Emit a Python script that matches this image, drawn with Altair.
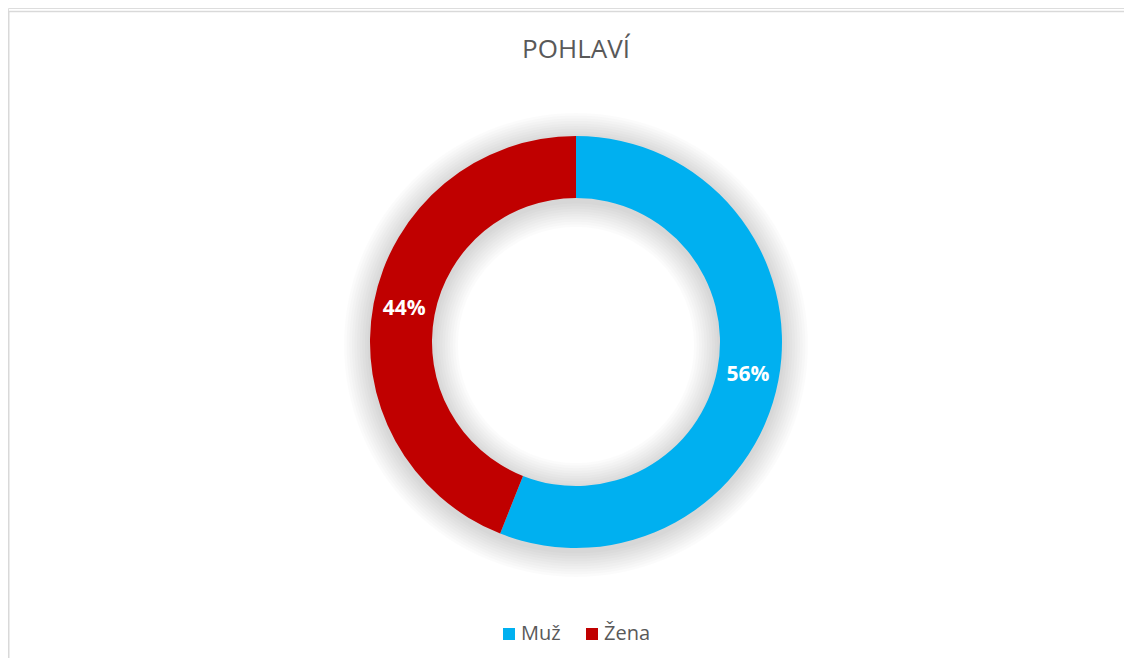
import altair as alt
import pandas as pd

categories = ["Muž", "Žena"]
values = [56, 44]
labels = ["56%", "44%"]
colors = ["#00B0F0", "#C00000"]
title_text = ["POHLAVÍ"]

df = pd.DataFrame({"cat": categories, "value": values, "label": labels, "order": [0, 1]})
one = pd.DataFrame({"a": [0]})
tdf = pd.DataFrame({"t": title_text})

CX, CY = 568, 334
R_OUT, R_IN = 206, 144

base = alt.Chart(df)

border = alt.Chart(one).mark_rect(
    fill=None, stroke="#d9d9d9", strokeWidth=1.5
).encode(
    x=alt.value(0.75), y=alt.value(3.5), x2=alt.value(3000), y2=alt.value(3000)
)

title = alt.Chart(tdf).mark_text(
    font="Open Sans", fontSize=26, color="#595959", baseline="alphabetic", align="center"
).encode(text="t:N", x=alt.value(CX), y=alt.value(50))

shadows = []
for k in range(1, 11):
    shadows.append(
        alt.Chart(one).mark_arc(
            theta=0, theta2=6.2832, radius=R_OUT + 2.6 * k, radius2=R_IN - 2.6 * k,
            color="#000000", opacity=0.014
        ).encode(x=alt.value(CX), y=alt.value(CY + 3))
    )

arc = base.mark_arc(radius=R_OUT, radius2=R_IN).encode(
    theta=alt.Theta("value:Q", stack=True),
    order=alt.Order("order:Q"),
    color=alt.Color(
        "cat:N",
        scale=alt.Scale(domain=categories, range=colors),
        legend=alt.Legend(
            title=None, orient="none", direction="horizontal",
            legendX=491, legendY=616,
            symbolType="square", symbolSize=144, symbolStrokeWidth=0,
            labelFont="Open Sans", labelFontSize=20, labelColor="#595959",
            labelOffset=2, columnPadding=21,
        ),
    ),
    x=alt.value(CX), y=alt.value(CY),
)

text = base.mark_text(
    radius=175, font="Open Sans", fontWeight="bold", fontSize=21, color="white"
).encode(
    theta=alt.Theta("value:Q", stack=True),
    order=alt.Order("order:Q"),
    text="label:N",
    x=alt.value(CX), y=alt.value(CY),
)

chart = alt.layer(border, title, *shadows, arc, text).properties(
    width=1116, height=650,
    padding=0,
    autosize=alt.AutoSizeParams(type="none"),
).configure_view(stroke=None).configure(background="white")

chart.save("out.html", embed_options={"renderer": "svg", "actions": False})
